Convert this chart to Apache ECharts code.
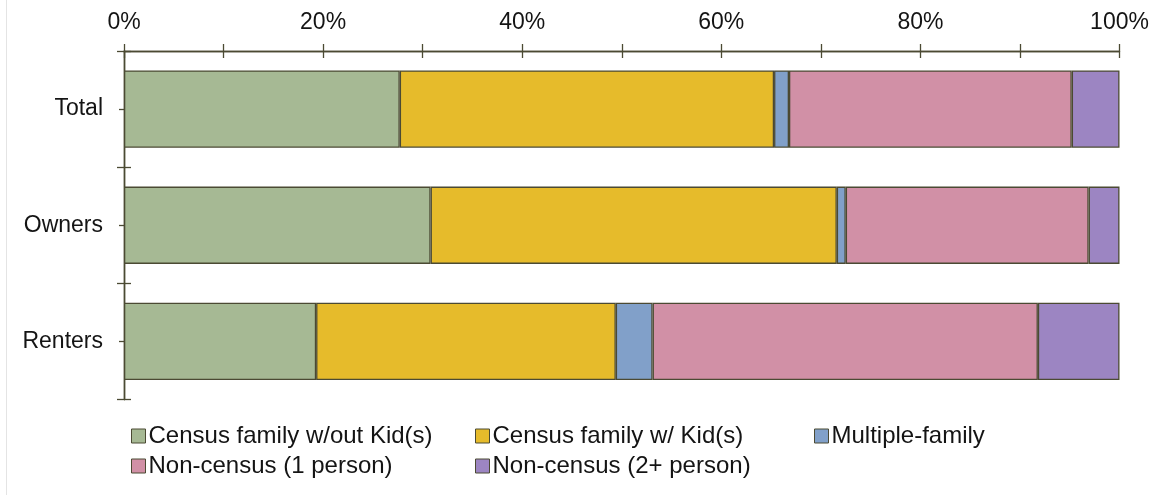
<!DOCTYPE html>
<html>
<head>
<meta charset="utf-8">
<script src="https://cdn.jsdelivr.net/npm/echarts@6/dist/echarts.min.js"></script>
<style>
  html, body { margin: 0; padding: 0; background: #fff; }
  #chart { width: 1154px; height: 495px; }
</style>
</head>
<body>
<div id="chart"></div>
<script>
// Household composition by tenure, share of households (%)
const categories = ['Total', 'Owners', 'Renters'];
const seriesNames = [
  'Census family w/out Kid(s)',
  'Census family w/ Kid(s)',
  'Multiple-family',
  'Non-census (1 person)',
  'Non-census (2+ person)'
];
const noKids    = [27.7, 30.8, 19.3];
const withKids  = [37.6, 40.8, 30.1];
const multiFam  = [1.5, 0.9, 3.7];
const onePerson = [28.4, 24.4, 38.7];
const twoPlus   = [4.8, 3.1, 8.2];
const xTicks = [0, 20, 40, 60, 80, 100];

const colors = ['#a6b994', '#e6bb2b', '#81a0c9', '#d190a6', '#9c85c2'];
const values = [noKids, withKids, multiFam, onePerson, twoPlus];
const ink = '#4b4a33';
const textColor = '#141414';
const font = "'Liberation Sans', Arial, sans-serif";
const fontSize = 23;

const chart = echarts.init(document.getElementById('chart'));

const grid = { left: 124, top: 51, width: 995.5, height: 348.5 };

function xAxisDef(inside, showLabel) {
  return {
    type: 'value', position: 'top', min: 0, max: 100, interval: 10,
    axisLine: { show: true, lineStyle: { color: ink, width: 1.3 } },
    axisTick: { show: true, inside: inside, length: 7, lineStyle: { color: ink, width: 1.3 } },
    splitLine: { show: false },
    axisLabel: {
      show: showLabel, margin: 17, color: textColor, fontSize: fontSize, fontFamily: font,
      formatter: v => xTicks.indexOf(v) >= 0 ? v + '%' : ''
    }
  };
}

function yAxisDef(opts) {
  return Object.assign({
    type: 'category', data: categories, inverse: true, position: 'left',
    axisLine: { show: true, lineStyle: { color: ink, width: 1.3 } },
    axisTick: { show: true, length: 7, lineStyle: { color: ink, width: 1.3 } },
    axisLabel: { show: false }
  }, opts);
}

chart.setOption({
  backgroundColor: '#fff',
  animation: false,
  grid: grid,
  xAxis: [xAxisDef(false, true), xAxisDef(true, false)],
  yAxis: [
    yAxisDef({
      axisLabel: { show: true, margin: 21, color: textColor, fontSize: fontSize, fontFamily: font }
    }),
    yAxisDef({ axisTick: { show: true, inside: true, length: 7, lineStyle: { color: ink, width: 1.3 } } }),
    yAxisDef({ axisTick: { show: true, alignWithLabel: true, length: 5, lineStyle: { color: ink, width: 1.3 } } })
  ],
  legend: [
    { data: [seriesNames[0], seriesNames[3]], left: 131, top: 424 },
    { data: [seriesNames[1], seriesNames[4]], left: 475, top: 424 },
    { data: [seriesNames[2]], left: 814, top: 424 }
  ].map(l => Object.assign({
    orient: 'vertical', itemGap: 6, itemWidth: 14, itemHeight: 14, icon: 'rect',
    padding: 0,
    textStyle: { color: textColor, fontSize: 24, fontFamily: font, padding: [0, 0, 0, -2] },
    itemStyle: { borderColor: ink, borderWidth: 1 }
  }, l)),
  graphic: [{
    type: 'line', shape: { x1: 6.5, y1: 0, x2: 6.5, y2: 495 },
    style: { stroke: '#e4e4e4', lineWidth: 1 }
  }],
  series: seriesNames.map((name, i) => ({
    name: name, type: 'bar', stack: 'share',
    xAxisIndex: 0, yAxisIndex: 0,
    barCategoryGap: '33.5%',
    data: values[i],
    itemStyle: { color: colors[i], borderColor: ink, borderWidth: 1.3 }
  }))
});
</script>
</body>
</html>
